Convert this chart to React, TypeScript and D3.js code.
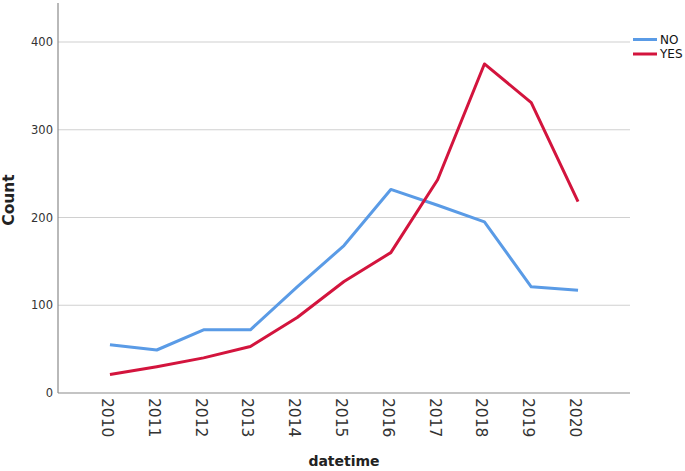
import React from 'react';
import * as d3 from 'd3';

const years = ['2010', '2011', '2012', '2013', '2014', '2015', '2016', '2017', '2018', '2019', '2020'];
const noCounts = [55, 49, 72, 72, 121, 168, 232, 214, 195, 121, 117];
const yesCounts = [21, 30, 40, 53, 86, 127, 160, 243, 375, 331, 218];
const yTicks = [0, 100, 200, 300, 400];

const series = [
    { name: 'NO', values: noCounts, color: '#5a9be6' },
    { name: 'YES', values: yesCounts, color: '#d3143d' },
];

const width = 685;
const height = 471;

const App: React.FC = () => {
    const left = 58;
    const right = 630;
    const top = 3;
    const bottom = 393;

    const xScale = d3.scalePoint<string>()
        .domain(years)
        .range([left, right])
        .padding(1.11);

    const yScale = d3.scaleLinear()
        .domain([0, 400])
        .range([bottom, 42]);

    const font = '"DejaVu Sans", sans-serif';

    return (
        <svg width={width} height={height} style={{ position: 'absolute', left: 0, top: 0, background: 'white' }}>
            {/* grid */}
            {yTicks.filter(t => t > 0).map(t => (
                <line key={t} x1={left} x2={right} y1={yScale(t)} y2={yScale(t)} stroke="#d0d0d0" strokeWidth={1.2} />
            ))}
            {/* axes */}
            <line x1={left} x2={left} y1={top} y2={bottom} stroke="#8a8a8a" strokeWidth={1.2} />
            <line x1={left} x2={right} y1={bottom} y2={bottom} stroke="#8a8a8a" strokeWidth={1.2} />
            {yTicks.map(t => (
                <text key={t} x={53} y={yScale(t)} dy="0.35em" textAnchor="end" fontFamily={font} fontSize={11.5} fill="#333">{t}</text>
            ))}
            {years.map(y => (
                <text key={y} transform={`translate(${(xScale(y) || 0) - 2.5},398) rotate(90)`} dy="0.35em" fontFamily={font} fontSize={15.5} fill="#333">{y}</text>
            ))}
            <text x={344} y={466} textAnchor="middle" fontFamily={font} fontSize={14} fontWeight="bold" fill="#222">datetime</text>
            <text transform="translate(14,200) rotate(-90)" textAnchor="middle" fontFamily={font} fontSize={15.5} fontWeight="bold" fill="#222">Count</text>
            {/* lines */}
            {series.map(s => {
                const line = d3.line<number>()
                    .x((_, i) => xScale(years[i]) || 0)
                    .y(d => yScale(d));
                return <path key={s.name} d={line(s.values) || ''} fill="none" stroke={s.color} strokeWidth={3} strokeLinejoin="round" />;
            })}
            {/* legend */}
            {series.map((s, i) => (
                <g key={s.name} transform={`translate(633,${39.5 + i * 14.5})`}>
                    <line x1={0} x2={24} y1={0} y2={0} stroke={s.color} strokeWidth={3} />
                    <text x={27} y={0} dy="0.35em" fontFamily={font} fontSize={12} fill="#111">{s.name}</text>
                </g>
            ))}
        </svg>
    );
};

export default App;
